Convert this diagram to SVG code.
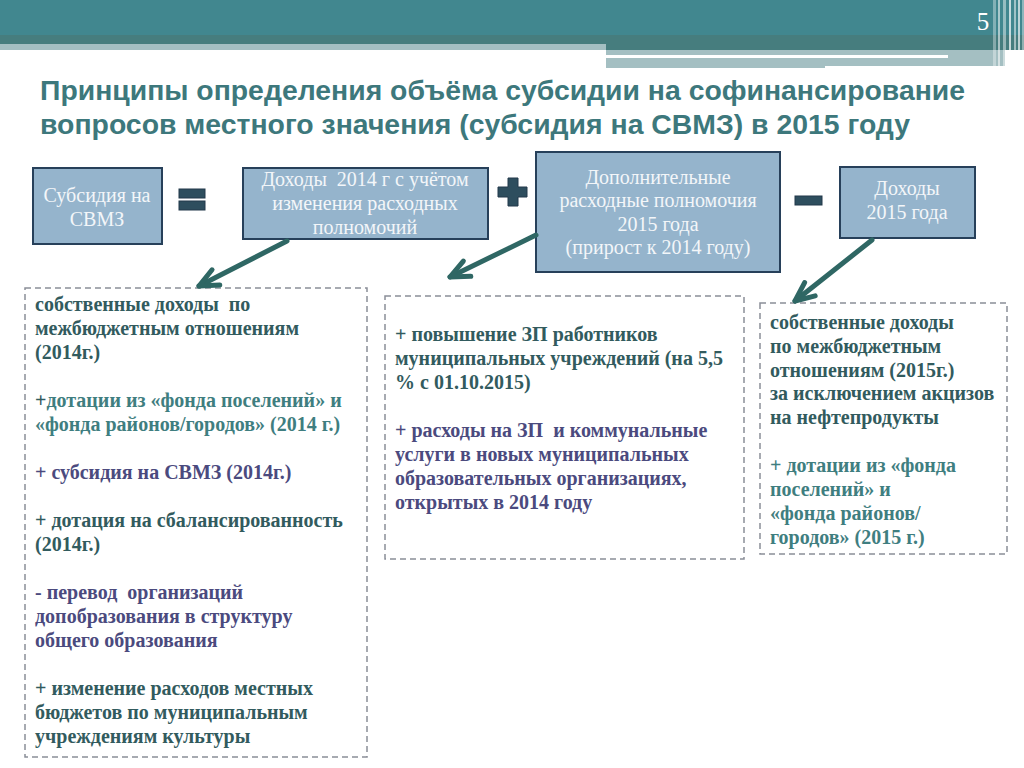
<svg xmlns="http://www.w3.org/2000/svg" width="1024" height="768" viewBox="0 0 1024 768">
<defs>
<style>
.box{fill:#95B4CC;stroke:#27405A;stroke-width:2}
.bt{font-family:"Liberation Serif","Times New Roman",serif;font-size:20px;fill:#F3F6F9;text-anchor:middle}
.det{fill:#FFFFFF;stroke:#8A8E98;stroke-width:1.5;stroke-dasharray:6 4}
.dt{font-family:"Liberation Serif","Times New Roman",serif;font-size:20px;font-weight:bold}
.dk{fill:#325B5E}
.tl{fill:#3F7E80}
.pu{fill:#4B4A7E}
.op{fill:#2E4E5E;stroke:#22384A;stroke-width:1}
.conn{fill:none;stroke:#2F6764;stroke-width:5;stroke-linecap:round}
.title{font-family:"Liberation Sans",Arial,sans-serif;font-size:27px;font-weight:bold;fill:#3D787C}
</style>
<marker id="ah" markerUnits="userSpaceOnUse" markerWidth="30" markerHeight="30" refX="0" refY="0" viewBox="-24 -14 30 28" orient="auto" overflow="visible">
<path d="M-19,-8.5 L0,0 L-19,8.5" fill="none" stroke="#2F6764" stroke-width="5" stroke-linecap="round" stroke-linejoin="round"/>
</marker>
</defs>
<rect width="1024" height="768" fill="#FFFFFF"/>
<g id="header">
<rect x="0" y="0" width="1024" height="35" fill="#41878F"/>
<rect x="0" y="35" width="1024" height="10" fill="#467D7E"/>
<rect x="0" y="44" width="606" height="6" fill="#A4BFC2"/>
<rect x="606" y="44" width="418" height="6" fill="#467D7E"/>
<rect x="606" y="50" width="219" height="18" fill="#A4BFC2"/>
<rect x="825" y="50" width="180" height="16" fill="#A4BFC2"/>
<rect x="606" y="55" width="342" height="3" fill="#FFFFFF"/>
<g fill="#FFFFFF">
<rect x="993" y="0" width="3" height="68" opacity="0.35"/>
<rect x="998" y="0" width="2" height="68" opacity="0.55"/>
<rect x="1003" y="0" width="3" height="68" opacity="0.45"/>
<rect x="1009" y="0" width="2" height="68" opacity="0.7"/>
<rect x="1014" y="0" width="2" height="68" opacity="0.5"/>
<rect x="1018" y="0" width="2" height="68" opacity="0.65"/>
<rect x="1022" y="0" width="2" height="68" opacity="0.4"/>
</g>
<text x="983" y="30" font-family="Liberation Serif, Times New Roman, serif" font-size="25" fill="#FFFFFF" text-anchor="middle">5</text>
</g>
<g id="title">
<text class="title" x="40" y="100" textLength="925" lengthAdjust="spacingAndGlyphs">Принципы определения объёма субсидии на софинансирование</text>
<text class="title" x="40" y="134" textLength="870" lengthAdjust="spacingAndGlyphs">вопросов местного значения (субсидия на СВМЗ) в 2015 году</text>
</g>
<g id="node-svmz">
<rect class="box" x="33" y="168" width="129" height="76"/>
<text class="bt" x="97" y="202">Субсидия на</text>
<text class="bt" x="97" y="226">СВМЗ</text>
</g>
<g id="op-equals">
<rect class="op" x="179" y="189" width="26" height="9"/>
<rect class="op" x="179" y="201" width="26" height="9"/>
</g>
<g id="node-income2014">
<rect class="box" x="243" y="168" width="245" height="71"/>
<text class="bt" x="365" y="186" xml:space="preserve">Доходы  2014 г с учётом</text>
<text class="bt" x="365" y="210">изменения расходных</text>
<text class="bt" x="365" y="234">полномочий</text>
</g>
<g id="op-plus">
<path class="op" d="M508,178 H518 V187 H527 V197 H518 V206 H508 V197 H498 V187 H508 Z"/>
</g>
<g id="node-extra2015">
<rect class="box" x="536" y="152" width="244" height="120"/>
<text class="bt" x="658" y="184">Дополнительные</text>
<text class="bt" x="658" y="207">расходные полномочия</text>
<text class="bt" x="658" y="231">2015 года</text>
<text class="bt" x="658" y="254">(прирост к 2014 году)</text>
</g>
<g id="op-minus">
<rect class="op" x="795" y="196" width="27" height="9"/>
</g>
<g id="node-income2015">
<rect class="box" x="840" y="167" width="135" height="71"/>
<text class="bt" x="907" y="195">Доходы</text>
<text class="bt" x="907" y="219">2015 года</text>
</g>
<g id="detail-left">
<rect class="det" x="25" y="288" width="342" height="469"/>
<text class="dt dk" x="35" y="311" xml:space="preserve">собственные доходы  по</text>
<text class="dt dk" x="35" y="335">межбюджетным отношениям</text>
<text class="dt dk" x="35" y="359">(2014г.)</text>
<text class="dt tl" x="35" y="407"><tspan class="dk">+</tspan>дотации из «фонда поселений» и</text>
<text class="dt tl" x="35" y="431">«фонда районов/городов» (2014 г.)</text>
<text class="dt pu" x="35" y="479">+ субсидия на СВМЗ (2014г.)</text>
<text class="dt dk" x="35" y="527">+ дотация на сбалансированность</text>
<text class="dt dk" x="35" y="551">(2014г.)</text>
<text class="dt pu" x="35" y="599" xml:space="preserve">- перевод  организаций</text>
<text class="dt pu" x="35" y="623">допобразования в структуру</text>
<text class="dt pu" x="35" y="647">общего образования</text>
<text class="dt dk" x="35" y="695">+ изменение расходов местных</text>
<text class="dt dk" x="35" y="719">бюджетов по муниципальным</text>
<text class="dt dk" x="35" y="743">учреждениям культуры</text>
</g>
<g id="detail-middle">
<rect class="det" x="385" y="296" width="359" height="263"/>
<text class="dt dk" x="395" y="341">+ повышение ЗП работников</text>
<text class="dt dk" x="395" y="365">муниципальных учреждений (на 5,5</text>
<text class="dt dk" x="395" y="389">% с 01.10.2015)</text>
<text class="dt pu" x="395" y="437" xml:space="preserve">+ расходы на ЗП  и коммунальные</text>
<text class="dt pu" x="395" y="461">услуги в новых муниципальных</text>
<text class="dt pu" x="395" y="485">образовательных организациях,</text>
<text class="dt pu" x="395" y="509">открытых в 2014 году</text>
</g>
<g id="detail-right">
<rect class="det" x="760" y="303" width="247" height="251"/>
<text class="dt dk" x="770" y="329">собственные доходы</text>
<text class="dt dk" x="770" y="353">по межбюджетным</text>
<text class="dt dk" x="770" y="377">отношениям (2015г.)</text>
<text class="dt dk" x="770" y="400">за исключением акцизов</text>
<text class="dt dk" x="770" y="424">на нефтепродукты</text>
<text class="dt tl" x="770" y="472">+ дотации из «фонда</text>
<text class="dt tl" x="770" y="496">поселений» и</text>
<text class="dt tl" x="770" y="520">«фонда районов/</text>
<text class="dt tl" x="770" y="544">городов» (2015 г.)</text>
</g>
<g id="connectors">
<path class="conn" d="M287,241 L199,286" marker-end="url(#ah)"/>
<path class="conn" d="M536,235 L450,277" marker-end="url(#ah)"/>
<path class="conn" d="M872,240 L795,301" marker-end="url(#ah)"/>
</g>
</svg>
